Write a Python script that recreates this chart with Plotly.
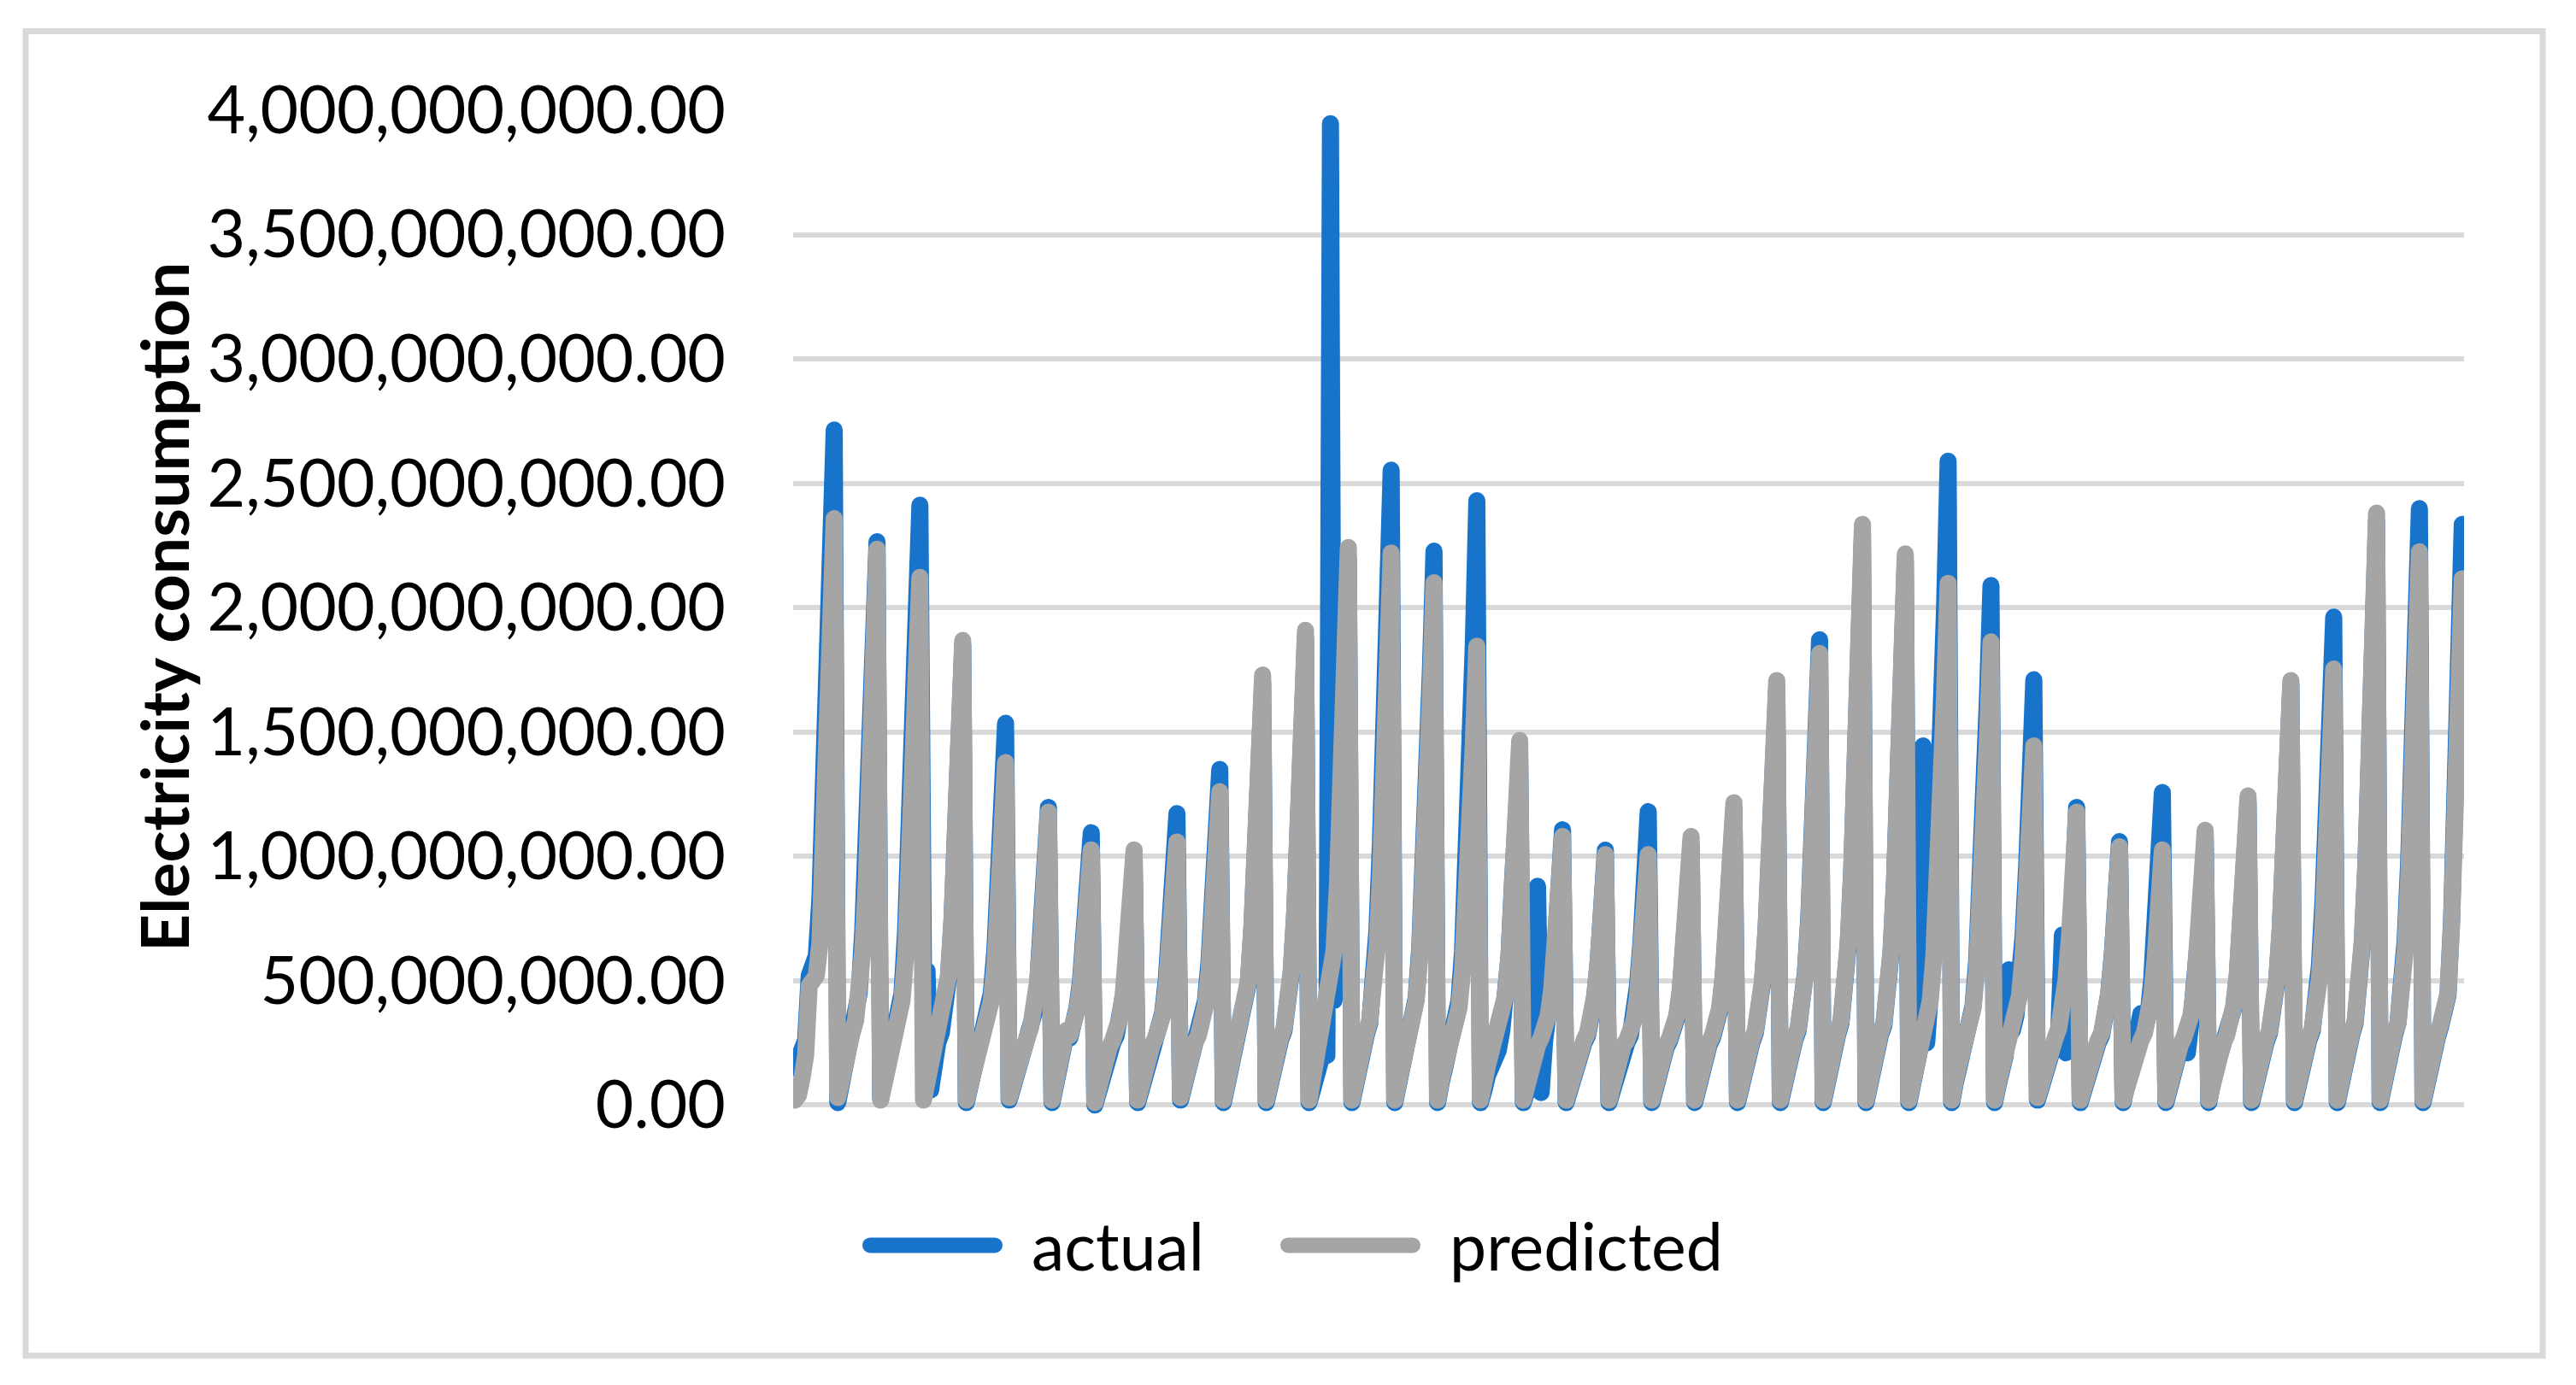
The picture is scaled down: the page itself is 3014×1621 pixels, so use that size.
import plotly.graph_objects as go

# ---------------- data (values in millions) ----------------
actual_millions = [
    150, 200, 210, 260, 520, 560, 600, 830, 1250, 1750, 2250, 2714,   # 1
    10, 90, 160, 220, 280, 330, 450, 700, 1050, 1440, 1800, 2265,     # 2
    30, 90, 160, 220, 270, 320, 450, 700, 1050, 1415, 1900, 2412,     # 3
    550, 540, 60, 200, 250, 290, 370, 510, 740, 1040, 1440, 1850,     # 4
    10, 70, 140, 190, 230, 270, 340, 450, 620, 880, 1200, 1535,       # 5
    20, 70, 130, 190, 230, 260, 300, 370, 490, 670, 900, 1197,        # 6
    10, 80, 140, 270, 290, 270, 320, 390, 500, 660, 850, 1095,        # 7
    0, 60, 120, 180, 220, 250, 280, 340, 440, 590, 780, 1000,         # 8
    10, 70, 130, 180, 230, 260, 300, 370, 500, 680, 900, 1172,        # 9
    20, 80, 140, 190, 240, 270, 320, 420, 580, 800, 1060, 1350,       # 10
    10, 80, 150, 210, 250, 290, 360, 490, 710, 990, 1330, 1700,       # 11
    10, 90, 160, 220, 260, 300, 380, 530, 770, 1080, 1460, 1880,      # 12
    10, 80, 150, 200, 220, 200, 3946, 420, 850, 1250, 1700, 2200,     # 13
    10, 100, 170, 230, 280, 330, 460, 700, 1050, 1500, 2000, 2553,    # 14
    10, 90, 160, 220, 270, 320, 430, 630, 920, 1300, 1750, 2227,      # 15
    10, 90, 150, 210, 260, 310, 420, 620, 930, 1350, 1850, 2430,      # 16
    10, 60, 120, 150, 180, 220, 300, 420, 600, 900, 1275, 1400,       # 17
    10, 60, 120, 150, 880, 50, 260, 350, 480, 650, 860, 1107,         # 18
    10, 70, 130, 180, 220, 250, 280, 330, 430, 580, 780, 1025,        # 19
    10, 70, 60, 190, 230, 250, 280, 350, 480, 660, 900, 1180,         # 20
    10, 80, 140, 190, 230, 260, 290, 350, 460, 610, 810, 1050,        # 21
    10, 90, 150, 200, 240, 270, 310, 380, 510, 690, 910, 1190,        # 22
    10, 90, 150, 210, 250, 290, 360, 490, 700, 970, 1310, 1680,       # 23
    10, 90, 160, 220, 260, 300, 380, 530, 760, 1070, 1440, 1871,      # 24
    10, 100, 170, 230, 280, 330, 440, 640, 940, 1330, 1790, 2300,     # 25
    10, 100, 170, 230, 280, 320, 420, 610, 900, 1270, 1710, 2190,     # 26
    10, 90, 160, 220, 1444, 250, 450, 700, 1050, 1500, 2000, 2589,    # 27
    10, 90, 150, 210, 260, 310, 400, 580, 860, 1220, 1630, 2089,      # 28
    10, 80, 140, 200, 544, 300, 360, 480, 680, 960, 1300, 1710,       # 29
    20, 80, 140, 190, 230, 260, 300, 684, 210, 620, 900, 1197,        # 30
    10, 70, 130, 180, 220, 250, 280, 340, 450, 610, 810, 1059,        # 31
    10, 70, 130, 180, 300, 368, 300, 360, 500, 720, 980, 1257,        # 32
    10, 80, 140, 190, 230, 220, 210, 330, 460, 620, 820, 1080,        # 33
    10, 90, 150, 200, 240, 270, 310, 390, 520, 700, 930, 1220,        # 34
    10, 90, 150, 210, 250, 290, 360, 490, 700, 980, 1320, 1690,       # 35
    10, 90, 160, 220, 260, 300, 390, 560, 820, 1150, 1530, 1962,      # 36
    10, 100, 170, 230, 280, 330, 440, 650, 960, 1360, 1830, 2350,     # 37
    10, 100, 170, 230, 280, 330, 440, 660, 980, 1390, 1870, 2398,     # 38
    10, 100, 160, 220, 270, 320, 390, 440, 740, 1150, 1650, 2335,     # 39
]

predicted_millions = [
    20, 40, 110, 200, 480, 500, 520, 650, 1000, 1450, 1900, 2358,     # 1
    30, 120, 180, 240, 290, 340, 430, 620, 900, 1250, 1700, 2235,     # 2
    20, 100, 170, 230, 280, 330, 420, 600, 900, 1250, 1650, 2122,     # 3
    20, 90, 160, 220, 260, 300, 380, 520, 750, 1050, 1450, 1868,      # 4
    20, 80, 150, 200, 240, 280, 330, 420, 560, 780, 1050, 1377,       # 5
    30, 90, 150, 200, 240, 270, 310, 380, 500, 680, 900, 1178,        # 6
    20, 100, 160, 290, 300, 280, 320, 380, 480, 620, 800, 1026,       # 7
    10, 80, 140, 190, 230, 260, 290, 350, 450, 600, 790, 1026,        # 8
    20, 90, 150, 200, 240, 270, 300, 360, 470, 620, 820, 1058,        # 9
    30, 100, 160, 210, 250, 280, 320, 400, 540, 740, 980, 1260,       # 10
    20, 90, 160, 220, 260, 300, 370, 500, 720, 1000, 1350, 1729,      # 11
    20, 100, 170, 230, 270, 310, 390, 540, 780, 1100, 1480, 1909,     # 12
    20, 100, 170, 230, 290, 380, 460, 620, 900, 1300, 1750, 2242,     # 13
    20, 110, 180, 240, 290, 340, 440, 630, 920, 1300, 1750, 2220,     # 14
    20, 100, 170, 230, 280, 330, 420, 600, 880, 1230, 1650, 2100,     # 15
    20, 100, 160, 220, 270, 310, 390, 540, 780, 1080, 1450, 1845,     # 16
    20, 90, 160, 210, 250, 290, 340, 440, 600, 830, 1120, 1466,       # 17
    20, 90, 150, 200, 240, 270, 300, 360, 470, 620, 820, 1080,        # 18
    20, 80, 140, 190, 230, 260, 290, 340, 440, 580, 770, 1007,        # 19
    20, 90, 150, 200, 240, 260, 290, 340, 440, 590, 780, 1007,        # 20
    20, 90, 150, 200, 240, 270, 300, 360, 470, 620, 830, 1080,        # 21
    20, 100, 160, 210, 250, 280, 320, 390, 520, 700, 930, 1216,       # 22
    20, 100, 160, 220, 260, 300, 370, 500, 710, 990, 1330, 1707,      # 23
    20, 100, 170, 230, 270, 310, 380, 520, 740, 1040, 1400, 1816,     # 24
    20, 110, 180, 240, 290, 340, 450, 650, 950, 1350, 1820, 2335,     # 25
    20, 110, 180, 240, 290, 330, 430, 620, 910, 1290, 1730, 2216,     # 26
    20, 100, 170, 230, 280, 330, 420, 600, 880, 1240, 1650, 2098,     # 27
    20, 100, 160, 220, 270, 310, 390, 540, 790, 1100, 1470, 1862,     # 28
    20, 90, 150, 210, 250, 290, 340, 440, 600, 820, 1100, 1444,       # 29
    30, 90, 150, 200, 240, 270, 310, 380, 500, 680, 900, 1178,        # 30
    20, 80, 140, 190, 230, 260, 290, 340, 450, 600, 800, 1039,        # 31
    20, 80, 140, 190, 230, 260, 290, 340, 440, 590, 790, 1026,        # 32
    20, 90, 150, 200, 240, 270, 300, 360, 470, 630, 840, 1105,        # 33
    20, 100, 160, 210, 250, 280, 320, 400, 530, 720, 950, 1243,       # 34
    20, 100, 160, 220, 260, 300, 370, 500, 710, 990, 1330, 1707,      # 35
    20, 100, 170, 230, 270, 310, 380, 510, 730, 1020, 1370, 1753,     # 36
    20, 110, 180, 240, 290, 340, 450, 660, 970, 1380, 1860, 2380,     # 37
    20, 110, 180, 240, 290, 330, 430, 620, 910, 1290, 1740, 2225,     # 38
    20, 110, 170, 230, 280, 330, 400, 450, 720, 1100, 1850, 2116,     # 39
]

series_names = ["actual", "predicted"]
y_title = "Electricity consumption"

period = list(range(len(actual_millions)))
actual = [v * 1e6 for v in actual_millions]
predicted = [v * 1e6 for v in predicted_millions]

# ---------------- layout geometry (pixels) ----------------
W, H = 3014, 1621
plot_left, plot_right = 928, 2883
y_top_px, y_zero_px = 129, 1293.5
y_max, y_min = 4.0e9, -0.04e9
px_per_val = (y_zero_px - y_top_px) / y_max
plot_bottom = y_zero_px + (0 - y_min) * px_per_val
m_l, m_r, m_t, m_b = plot_left, W - plot_right, y_top_px, H - plot_bottom
pw, ph = plot_right - plot_left, plot_bottom - y_top_px


def px_x(x):
    return (x - plot_left) / pw


def px_y(y):
    return (plot_bottom - y) / ph


BLUE = "#1874CB"
GRAY = "#A5A5A5"
GRID = "#D9D9D9"
LEG_ORIGIN = 1013
LEG_ITEMW = 184

fig = go.Figure()
fig.add_trace(go.Scatter(x=period, y=actual, mode="lines", name=series_names[0],
                         line=dict(color=BLUE, width=20)))
fig.add_trace(go.Scatter(x=period, y=predicted, mode="lines", name=series_names[1],
                         line=dict(color=GRAY, width=20)))

fig.update_layout(
    width=W, height=H,
    margin=dict(l=m_l, r=m_r, t=m_t, b=m_b, pad=0),
    paper_bgcolor="white", plot_bgcolor="white",
    font=dict(family="Lato, Open Sans, sans-serif", color="black"),
    xaxis=dict(range=[-0.5, len(period) - 0.5], showgrid=False, showticklabels=False,
               zeroline=False, showline=False, ticks=""),
    yaxis=dict(range=[y_min, y_max], tick0=0, dtick=5e8, tickformat=",.2f",
               showgrid=True, gridcolor=GRID, gridwidth=6,
               zeroline=False, showline=False, ticks="",
               tickfont=dict(family="Lato, Open Sans, sans-serif", size=77, color="black"),
               ticklabelstandoff=78),
    showlegend=True,
    legend=dict(orientation="h", x=px_x(LEG_ORIGIN), xanchor="left", y=px_y(1458),
                yanchor="middle",
                font=dict(family="Lato, Open Sans, sans-serif", size=77, color="black"),
                itemwidth=LEG_ITEMW, entrywidth=290, entrywidthmode="pixels",
                bgcolor="rgba(0,0,0,0)", traceorder="normal", borderwidth=0,
                itemclick=False, itemdoubleclick=False),
    annotations=[dict(text=y_title, textangle=-90, xref="paper", yref="paper",
                      x=px_x(191), y=px_y(711), xanchor="center", yanchor="middle",
                      showarrow=False,
                      font=dict(family="Lato, Open Sans, sans-serif", size=77, color="black",
                                weight="bold"))],
    shapes=[dict(type="rect", xref="paper", yref="paper",
                 x0=px_x(30), x1=px_x(2975), y0=px_y(1587), y1=px_y(36.5),
                 line=dict(color=GRID, width=7), fillcolor="rgba(0,0,0,0)", layer="below")],
)

post = """
document.body.style.margin='0';
document.body.style.overflow='hidden';
var st = document.createElement('style');
st.textContent = '.js-line{stroke-linejoin:round !important;stroke-linecap:round !important;}' +
  '.legendlines path{stroke-width:18px !important;stroke-linecap:round !important;}' +
  '.legend .scrollbox{clip-path:none !important;}' +
  '.legend{overflow:visible !important;}';
document.head.appendChild(st);
function fixLegend(){
  document.querySelectorAll('.legendlines path').forEach(function(p){
    p.setAttribute('d','M5,0h146');
  });
  document.querySelectorAll('.legend .scrollbox').forEach(function(e){
    e.removeAttribute('clip-path');
  });
}
fixLegend();
setTimeout(fixLegend, 0);
var gd = document.getElementById('{plot_id}');
if (gd && gd.on) { gd.on('plotly_afterplot', fixLegend); }
"""
fig.write_html("out.html", post_script=post, config={"displayModeBar": False})
